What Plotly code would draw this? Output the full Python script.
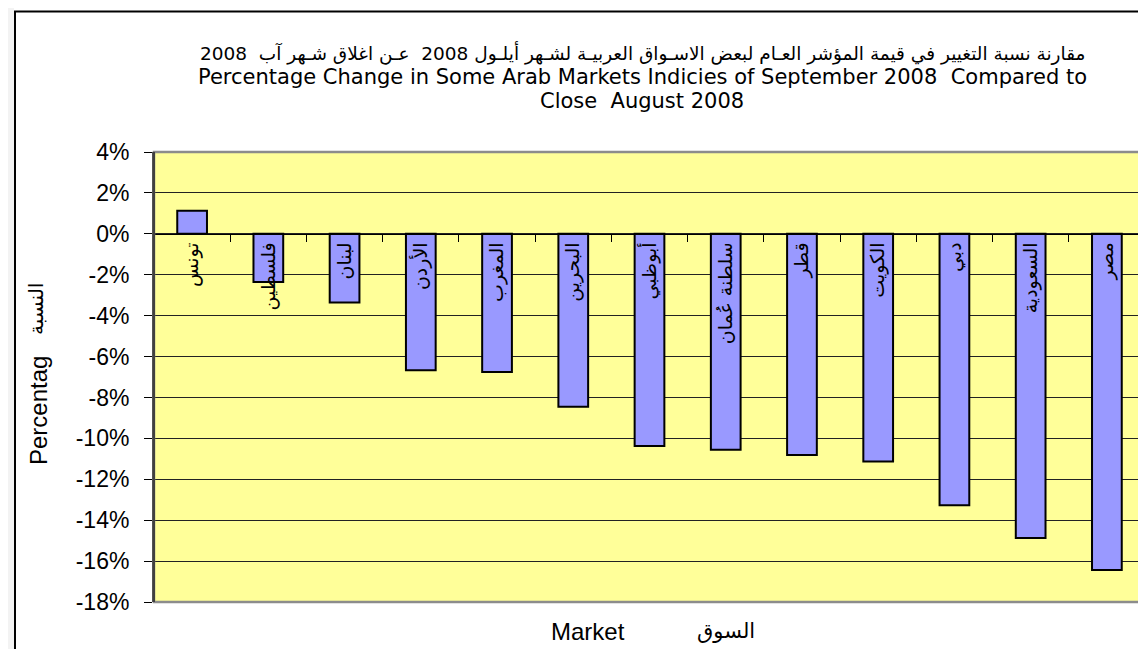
import plotly.graph_objects as go

# ---- data ----
markets = ["تونس", "فلسطين", "لبنان", "الأردن", "المغرب", "البحرين", "أبوظبي",
           "سلطنة عُمان", "قطر", "الكويت", "دبي", "السعودية", "مصر"]
change_pct = [1.13, -2.35, -3.36, -6.67, -6.75, -8.46, -10.37,
              -10.56, -10.81, -11.13, -13.27, -14.87, -16.43]
y_tick_vals = [4, 2, 0, -2, -4, -6, -8, -10, -12, -14, -16, -18]
y_tick_text = ["4%", "2%", "0%", "-2%", "-4%", "-6%", "-8%", "-10%",
               "-12%", "-14%", "-16%", "-18%"]
y_range = [-18, 4]
title_lines = [
    "مقارنة نسبة التغيير في قيمة المؤشر العـام لبعض الاسـواق العربيـة لشـهر أيلـول 2008  عـن اغلاق شـهر آب  2008",
    "Percentage Change in Some Arab Markets Indicies of September 2008  Compared to",
    "Close  August 2008",
]
x_title_en = "Market"
x_title_ar = "السوق"
y_title_en = "Percentag"
y_title_ar = "النسبة"

# ---- layout geometry (pixels) ----
W, H = 1146, 649
L, R, T, B = 146, 9, 144, 55
pw, ph = W - L - R, H - T - B


def px(x):
    return (x - L) / pw


def py(y):
    return (H - B - y) / ph


FONT = "Liberation Sans, Arial, DejaVu Sans, sans-serif"
AFONT = "DejaVu Sans, Liberation Sans, sans-serif"
TFONT = "DejaVu Sans, sans-serif"

fig = go.Figure()
fig.add_trace(go.Bar(
    x=markets, y=change_pct, width=0.39,
    marker=dict(color="#9999FF", line=dict(color="black", width=2)),
    hoverinfo="skip",
))

zero_pos = (0 - y_range[0]) / (y_range[1] - y_range[0])

fig.update_layout(
    width=W, height=H,
    margin=dict(l=L, r=R, t=T, b=B, autoexpand=False),
    paper_bgcolor="white", plot_bgcolor="#FFFF99",
    showlegend=False,
    xaxis=dict(
        type="category", range=[-0.5, len(markets) - 0.5],
        anchor="free", position=zero_pos, automargin=False,
        showline=True, linecolor="black", linewidth=1,
        ticks="outside", tickson="boundaries", ticklen=7, tickcolor="black",
        tickangle=-90, tickfont=dict(family=AFONT, size=19, color="black"),
        showgrid=False, zeroline=False,
    ),
    yaxis=dict(
        range=y_range, tickvals=y_tick_vals, ticktext=y_tick_text,
        showgrid=True, gridcolor="#222222", gridwidth=1,
        ticks="outside", ticklen=8, tickcolor="black", tickwidth=1,
        showline=True, linecolor="#404040", linewidth=2,
        zeroline=False, automargin=False, ticklabelstandoff=10,
        tickfont=dict(family=FONT, size=23, color="black"),
    ),
)

shapes = [
    dict(type="rect", xref="paper", yref="paper", x0=0, x1=1, y0=0, y1=1,
         line=dict(color="#8c8c8c", width=2.5), layer="above"),
    dict(type="line", xref="paper", yref="paper", x0=0, x1=0, y0=0, y1=1,
         line=dict(color="#404040", width=2), layer="above"),
    dict(type="rect", xref="paper", yref="paper", x0=px(-50), x1=px(6),
         y0=py(700), y1=py(-50), line=dict(width=0), fillcolor="#f3f3f3",
         layer="below"),
    dict(type="rect", xref="paper", yref="paper", x0=px(7), x1=px(1300),
         y0=py(700), y1=py(3.5), line=dict(color="black", width=2)),
]
fig.update_layout(shapes=shapes)

ann = []
title_y = [45, 69, 93]
title_size = [18.5, 21, 21]
title_font = [AFONT, TFONT, TFONT]
for txt, yy, sz, fam in zip(title_lines, title_y, title_size, title_font):
    ann.append(dict(text=txt, xref="paper", yref="paper", x=px(634), y=py(yy),
                    xanchor="center", yanchor="middle", showarrow=False,
                    font=dict(family=fam, size=sz, color="black")))
ann.append(dict(text=x_title_en, xref="paper", yref="paper", x=px(580), y=py(623),
                xanchor="center", yanchor="middle", showarrow=False,
                font=dict(family=FONT, size=24, color="black")))
ann.append(dict(text=x_title_ar, xref="paper", yref="paper", x=px(718), y=py(623),
                xanchor="center", yanchor="middle", showarrow=False,
                font=dict(family=AFONT, size=21, color="black")))
ann.append(dict(text=y_title_en, xref="paper", yref="paper", x=px(30), y=py(403),
                xanchor="center", yanchor="middle", showarrow=False, textangle=-90,
                font=dict(family=FONT, size=24, color="black")))
ann.append(dict(text=y_title_ar, xref="paper", yref="paper", x=px(28), y=py(301),
                xanchor="center", yanchor="middle", showarrow=False, textangle=-90,
                font=dict(family=AFONT, size=20, color="black")))
fig.update_layout(annotations=ann)

fig.write_html("out.html")
